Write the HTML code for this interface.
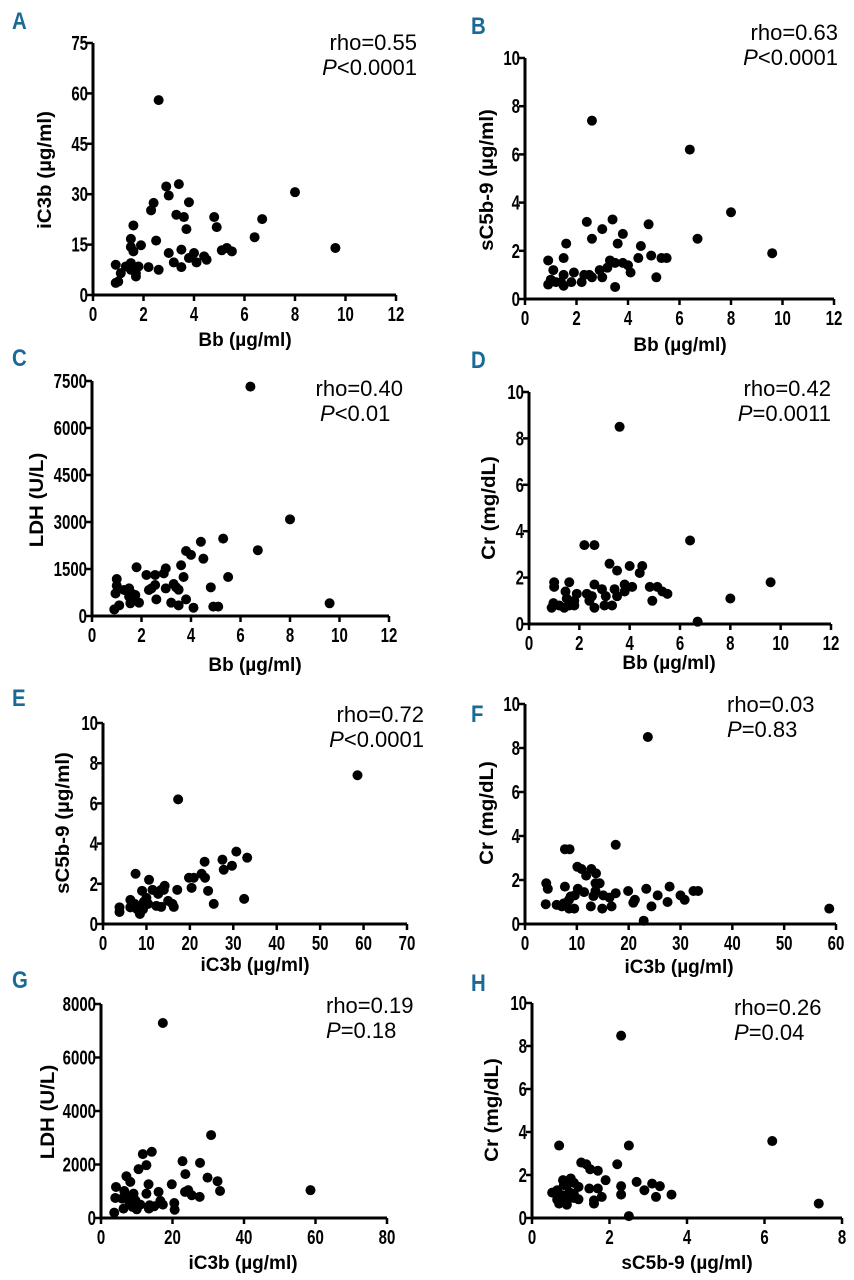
<!DOCTYPE html>
<html><head><meta charset="utf-8"><style>
body{margin:0;background:#fff}
svg{display:block}
text{font-family:"Liberation Sans",sans-serif}
.tk{font-weight:bold}
.ttl{font-weight:bold}
.lt{font-weight:bold;fill:#1a6a96}
</style></head><body>
<svg id="fig" width="854" height="1280" viewBox="0 0 854 1280"></svg>
<script>
const aX=[2.6,2.9,3.4,3.0,2.4,2.3,3.8,3.3,3.6,3.7,1.6,4.8,4.9,8.0,6.7,6.4,9.6,1.5,1.5,1.6,1.9,2.5,3.0,3.5,4.0,4.4,4.5,3.8,4.1,3.2,3.5,2.6,2.2,5.1,5.3,5.5,0.9,1.1,0.9,1.0,1.3,1.5,1.7,1.8,1.7,1.5,1.7];
const aY=[58,32.3,33,29.6,27.4,25.2,27.6,23.9,23.2,19.6,20.7,23.2,20.2,30.6,22.6,17.2,14,16.7,14.3,13,14.8,16.2,12.5,13.5,12.5,11.5,10.5,11,9.7,9.7,8.3,7.5,8.3,13.3,14,13,9,6.5,3.6,4,8.5,9.5,8,8.5,5.5,7.5,6.5];
const bX=[2.6,6.4,8.0,9.6,6.7,3.4,2.4,3.0,4.8,3.8,2.6,3.6,1.6,4.5,4.9,4.4,5.3,5.5,0.9,1.5,3.3,3.5,3.8,4.0,3.2,2.9,1.1,4.1,1.9,2.3,2.5,1.5,3.0,5.1,1.0,1.4,1.8,2.2,2.6,0.9,1.5,3.5,1.2];
const bY=[7.4,6.2,3.6,1.9,2.5,3.3,3.2,2.9,3.1,2.7,2.5,2.3,2.3,2.2,1.8,1.7,1.7,1.7,1.6,1.7,1.6,1.5,1.5,1.4,1.3,1.2,1.2,1.1,1.1,1.0,1.0,1.0,0.9,0.9,0.8,0.7,0.7,0.7,0.9,0.6,0.55,0.5,0.7];
const cX=[6.4,8.0,9.6,6.7,5.3,4.4,3.8,4.0,4.5,3.6,5.5,2.98,2.9,1.8,2.2,2.55,3.7,1.0,1.0,1.5,1.3,4.8,2.98,3.3,3.4,3.5,2.55,2.4,2.3,0.95,1.6,1.75,1.5,1.65,1.9,1.55,2.6,3.2,3.8,3.5,4.1,4.9,5.1,1.1,0.9];
const cY=[7320,3085,405,2100,2470,2370,2075,1950,1830,1620,1245,1520,1360,1555,1310,1310,1245,1180,970,880,830,915,880,1020,915,840,990,880,830,720,720,670,620,510,425,405,530,425,530,340,265,300,300,340,210];
const dX=[3.6,6.4,9.6,8.0,6.7,2.2,2.6,3.2,3.5,4.0,4.5,4.4,1.0,1.6,1.0,2.6,3.8,4.1,4.8,5.1,5.3,5.5,2.9,3.4,3.8,3.5,1.9,1.45,2.3,2.5,3.05,1.5,1.8,2.4,4.9,0.97,1.2,1.8,3.0,3.3,2.6,0.9,1.4,1.6];
const dY=[8.5,3.6,1.8,1.1,0.1,3.4,3.4,2.6,2.3,2.5,2.5,2.2,1.8,1.8,1.6,1.7,1.7,1.6,1.6,1.6,1.4,1.3,1.5,1.5,1.4,1.2,1.3,1.4,1.3,1.2,1.2,1.1,1.0,1.0,1.0,0.9,0.8,0.8,0.8,0.8,0.7,0.7,0.7,0.8];
const eX=[58.6,17.3,30.7,33.2,27.5,23.4,29.7,27.8,7.5,22.7,19.8,20.9,23.5,10.6,14.2,20.4,17.1,11.4,24.2,13.4,9.0,12.7,14.0,32.5,10.0,6.3,9.4,15.0,16.0,25.5,12.3,13.4,16.3,7.3,3.8,6.3,7.9,9.2,3.8,8.5,7.7,10.4];
const eY=[7.4,6.2,3.6,3.3,3.2,3.1,2.9,2.7,2.5,2.5,2.3,2.3,2.3,2.2,1.9,1.8,1.7,1.7,1.65,1.7,1.65,1.5,1.7,1.25,1.3,1.2,1.1,1.15,1.0,1.0,0.9,0.85,0.85,1.0,0.83,0.83,0.73,0.73,0.6,0.5,0.86,1.0];
const fX=[23.7,17.5,58.7,7.7,8.6,10.1,10.9,12.8,13.7,11.8,4.1,7.7,4.4,10.2,13.6,14.4,11.4,13.6,15.1,16.3,17.5,19.9,23.4,27.9,30.0,30.8,32.5,33.4,25.6,21.2,20.9,27.5,24.4,13.2,8.8,9.6,8.5,4.0,6.1,7.1,7.5,8.5,9.5,12.7,14.9,16.7,22.9];
const fY=[8.5,3.6,0.7,3.4,3.4,2.6,2.5,2.5,2.3,2.2,1.85,1.7,1.6,1.6,1.85,1.85,1.45,1.5,1.3,1.2,1.4,1.5,1.6,1.7,1.3,1.1,1.5,1.5,1.3,1.1,0.97,1.0,0.8,1.27,1.25,1.3,1.1,0.9,0.87,0.8,0.94,0.7,0.7,0.8,0.7,0.8,0.15];
const gX=[17.3,30.8,58.6,14.2,11.7,12.7,10.5,22.8,27.7,23.6,29.8,32.6,33.3,7.1,8.2,19.8,13.3,4.2,16.1,23.5,24.4,25.4,27.6,6.5,9.1,12.7,4.0,5.9,8.2,9.6,11.0,8.0,8.9,10.0,6.3,13.4,14.9,16.6,17.3,20.5,20.6,3.7,13.6];
const gY=[7290,3100,1040,2475,2390,1975,1825,2125,2060,1640,1510,1375,1010,1560,1350,1260,1260,1160,975,975,1040,850,790,1010,910,910,750,725,760,660,500,540,410,325,350,350,440,640,500,560,310,200,475];
const hX=[2.3,6.2,7.4,0.7,2.5,2.2,1.27,1.4,1.5,1.7,1.9,0.8,2.7,3.1,3.3,2.3,2.9,3.6,3.2,2.3,1.48,1.7,1.8,1.6,1.6,1.2,2.5,0.52,0.65,0.9,1.08,1.2,0.96,0.78,1.08,0.65,0.9,0.7,0.9,1.08,1.0,0.82];
const hY=[8.48,3.58,0.67,3.37,3.37,2.5,2.58,2.5,2.27,2.2,1.76,1.76,1.68,1.6,1.48,1.48,1.29,1.09,0.98,1.09,1.37,1.37,0.98,0.82,0.67,0.87,0.09,1.18,1.29,1.53,1.64,1.45,1.2,1.06,1.13,0.85,0.78,0.67,0.62,0.93,1.84,1.53];
const xTicksBb=["0","2","4","6","8","10","12"];
const yTicksA=["0","15","30","45","60","75"];
const yTicksC=["0","1500","3000","4500","6000","7500"];
const yTicksG=["0","2000","4000","6000","8000"];
const yTicks10=["0","2","4","6","8","10"];
const xTicksE=["0","10","20","30","40","50","60","70"];
const xTicksF=["0","10","20","30","40","50","60"];
const xTicksG=["0","20","40","60","80"];
const xTicksH=["0","2","4","6","8"];

const NS="http://www.w3.org/2000/svg";
const svg=document.getElementById('fig');
function mk(tag,at,parent){const e=document.createElementNS(NS,tag);for(const k in at)e.setAttribute(k,at[k]);(parent||svg).appendChild(e);return e;}
function txt(parent,x,y,cls,anchor,sx,fs,rot){
 return mk('text',{x:0,y:0,class:cls,'font-size':fs,'text-anchor':anchor,transform:`translate(${x} ${y})${rot?' rotate(-90)':''} scale(${sx} 1)`},parent);
}

const panels=[
 {id:'a',L:'A',X:aX,Y:aY,xt:xTicksBb,yt:yTicksA,x0:93,x1:396,y0:295,y1:43,xt2:'Bb (µg/ml)',xtx:245,xty:346,yt2:'iC3b (µg/ml)',ytx:45,yty:170,lx:12,ly:29,s1:'rho=0.55',p:'<0.0001',sx:417,sy:50,anc:'end'},
 {id:'b',L:'B',X:bX,Y:bY,xt:xTicksBb,yt:yTicks10,x0:525,x1:834,y0:299,y1:58,xt2:'Bb (µg/ml)',xtx:680,xty:351,yt2:'sC5b-9 (µg/ml)',ytx:487,yty:180,lx:471,ly:34,s1:'rho=0.63',p:'<0.0001',sx:838,sy:40,anc:'end'},
 {id:'c',L:'C',X:cX,Y:cY,xt:xTicksBb,yt:yTicksC,x0:92,x1:389,y0:616,y1:381,xt2:'Bb (µg/ml)',xtx:255,xty:671,yt2:'LDH (U/L)',ytx:37,yty:500,lx:12,ly:366,s1:'rho=0.40',p:'<0.01',sx:403,sy:396,anc:'end',pan:'start',psx:320},
 {id:'d',L:'D',X:dX,Y:dY,xt:xTicksBb,yt:yTicks10,x0:529,x1:831,y0:624,y1:392,xt2:'Bb (µg/ml)',xtx:669,xty:669,yt2:'Cr (mg/dL)',ytx:489,yty:508,lx:471,ly:368,s1:'rho=0.42',p:'=0.0011',sx:831,sy:396,anc:'end'},
 {id:'e',L:'E',X:eX,Y:eY,xt:xTicksE,yt:yTicks10,x0:103,x1:407,y0:924,y1:723,xt2:'iC3b (µg/ml)',xtx:255,xty:971,yt2:'sC5b-9 (µg/ml)',ytx:63,yty:823,lx:12,ly:706,s1:'rho=0.72',p:'<0.0001',sx:424,sy:722,anc:'end'},
 {id:'f',L:'F',X:fX,Y:fY,xt:xTicksF,yt:yTicks10,x0:525,x1:836,y0:924,y1:704,xt2:'iC3b (µg/ml)',xtx:679,xty:973,yt2:'Cr (mg/dL)',ytx:487,yty:813,lx:471,ly:722,s1:'rho=0.03',p:'=0.83',sx:727,sy:712,anc:'start'},
 {id:'g',L:'G',X:gX,Y:gY,xt:xTicksG,yt:yTicksG,x0:101,x1:387,y0:1218,y1:1004,xt2:'iC3b (µg/ml)',xtx:243,xty:1269,yt2:'LDH (U/L)',ytx:48,yty:1112,lx:12,ly:988,s1:'rho=0.19',p:'=0.18',sx:326,sy:1013,anc:'start'},
 {id:'h',L:'H',X:hX,Y:hY,xt:xTicksH,yt:yTicks10,x0:532,x1:842,y0:1218,y1:1003,xt2:'sC5b-9 (µg/ml)',xtx:687,xty:1269,yt2:'Cr (mg/dL)',ytx:492,yty:1110,lx:471,ly:991,s1:'rho=0.26',p:'=0.04',sx:734,sy:1015,anc:'start'}
];

panels.forEach(P=>{
 const g=mk('g',{});
 
 
 const xmax=parseFloat(P.xt[P.xt.length-1]), ymax=parseFloat(P.yt[P.yt.length-1]);
 const sx=v=>P.x0+(v/xmax)*(P.x1-P.x0);
 const sy=v=>P.y0-(v/ymax)*(P.y0-P.y1);
 const lt=txt(g,P.lx,P.ly,'lt','start',0.85,24);lt.textContent=P.L;
 
 
 const ax=mk('path',{d:`M${P.x0} ${P.y1}V${P.y0}H${P.x1}`,fill:'none',stroke:'#000','stroke-width':3},g);
 
 
 P.yt.forEach(t=>{const y=sy(parseFloat(t));
  mk('line',{x1:P.x0-6,x2:P.x0,y1:y,y2:y,stroke:'#000','stroke-width':2.5},g);
  const tx=txt(g,P.x0-5,y+7,'tk','end',0.75,20);tx.textContent=t;
  
  });
 P.xt.forEach(t=>{const x=sx(parseFloat(t));
  mk('line',{x1:x,x2:x,y1:P.y0,y2:P.y0+6,stroke:'#000','stroke-width':2.5},g);
  const tx=txt(g,x,P.y0+26,'tk','middle',0.75,20);tx.textContent=t;
  
  });
 const xt=txt(g,P.xtx,P.xty,'ttl','middle',1.0,19);xt.textContent=P.xt2;
 
 
 const yt=txt(g,P.ytx+6,P.yty,'ttl','middle',1.08,19,true);yt.textContent=P.yt2;
 
 
 const s1=txt(g,P.sx,P.sy,'st',P.anc,1,22);s1.textContent=P.s1;
 
 
 const s2=txt(g,P.pan?P.psx:P.sx,P.sy+25,'st',P.pan||P.anc,1,22);
 s2.innerHTML='<tspan font-style="italic">P</tspan>'+P.p.replace('<','&lt;');
 
 
 P.X.forEach((v,i)=>{
  const c=mk('circle',{cx:sx(v),cy:sy(P.Y[i]),r:5,fill:'#000'},g);
  
  
 });
});
</script>
</body></html>
